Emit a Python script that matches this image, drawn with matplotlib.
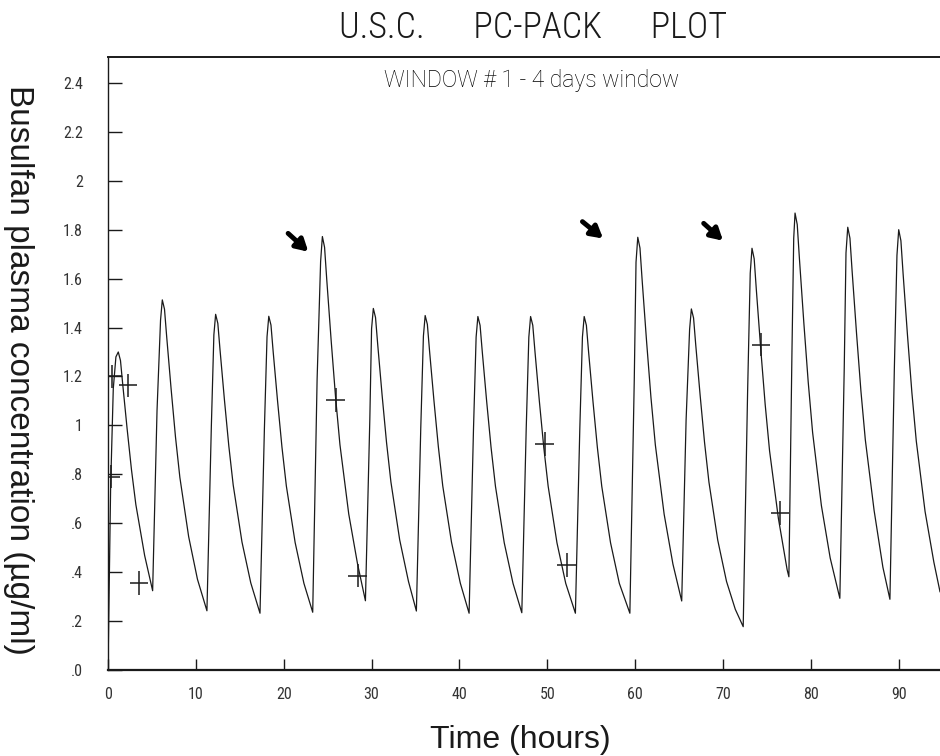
import matplotlib
matplotlib.use("Agg")
import matplotlib.pyplot as plt

# ---------------- data ----------------
# simulated busulfan concentration curve (time in hours, conc in ug/ml)
curve_time = [
    0.0, 0.3, 0.6, 0.9, 1.17, 1.42, 1.67, 2.17, 2.67, 3.17, 4.17,
    5.08, 5.58, 5.98, 6.18, 6.43, 6.68, 7.18, 7.68, 8.18, 9.18, 10.18,
    11.26, 11.76, 12.05, 12.25, 12.5, 12.75, 13.25, 13.75, 14.25, 15.25, 16.25,
    17.3, 17.8, 18.1, 18.3, 18.55, 18.8, 19.3, 19.8, 20.3, 21.3, 22.3,
    23.3, 23.8, 24.2, 24.4, 24.65, 24.9, 25.4, 25.9, 26.4, 27.4, 28.4,
    29.3, 29.8, 30.0, 30.2, 30.45, 30.7, 31.2, 31.7, 32.2, 33.2, 34.2,
    35.1, 35.6, 35.9, 36.1, 36.35, 36.6, 37.1, 37.6, 38.1, 39.1, 40.1,
    41.1, 41.6, 41.9, 42.1, 42.35, 42.6, 43.1, 43.6, 44.1, 45.1, 46.1,
    47.1, 47.6, 47.9, 48.1, 48.35, 48.6, 49.1, 49.6, 50.1, 51.1, 52.1,
    53.2, 53.7, 54.0, 54.2, 54.45, 54.7, 55.2, 55.7, 56.2, 57.2, 58.2,
    59.4, 59.9, 60.1, 60.3, 60.55, 60.8, 61.3, 61.8, 62.3, 63.3, 64.3,
    65.3, 65.8, 66.2, 66.4, 66.65, 66.9, 67.4, 67.9, 68.4, 69.4, 70.4, 71.4,
    72.3, 72.8, 73.1, 73.3, 73.55, 73.8, 74.3, 74.8, 75.3, 76.3, 77.3,
    77.5, 77.85, 78.05, 78.2, 78.45, 78.7, 79.2, 79.7, 80.2, 81.2, 82.2,
    83.3, 83.8, 84.0, 84.2, 84.45, 84.7, 85.2, 85.7, 86.2, 87.2, 88.2,
    89.0, 89.5, 89.8, 90.0, 90.25, 90.5, 91.0, 91.5, 92.0, 93.0, 94.0, 94.7,
]
curve_conc = [
    0.0, 0.75, 1.15, 1.28, 1.30, 1.265, 1.17, 0.988, 0.819, 0.676, 0.468,
    0.324, 1.061, 1.430, 1.513, 1.475, 1.362, 1.150, 0.953, 0.787, 0.545, 0.371,
    0.242, 0.993, 1.370, 1.454, 1.417, 1.309, 1.105, 0.916, 0.756, 0.523, 0.356,
    0.232, 0.985, 1.362, 1.446, 1.410, 1.301, 1.099, 0.911, 0.752, 0.521, 0.354,
    0.236, 1.188, 1.670, 1.772, 1.728, 1.595, 1.347, 1.116, 0.921, 0.638, 0.434,
    0.283, 1.024, 1.395, 1.478, 1.441, 1.330, 1.123, 0.931, 0.769, 0.532, 0.362,
    0.241, 0.990, 1.365, 1.449, 1.413, 1.304, 1.101, 0.913, 0.753, 0.522, 0.355,
    0.232, 0.984, 1.361, 1.445, 1.409, 1.301, 1.098, 0.910, 0.751, 0.520, 0.354,
    0.234, 0.985, 1.361, 1.445, 1.409, 1.301, 1.098, 0.910, 0.751, 0.520, 0.354,
    0.232, 0.984, 1.361, 1.445, 1.409, 1.301, 1.098, 0.910, 0.751, 0.520, 0.354,
    0.232, 1.185, 1.667, 1.769, 1.725, 1.592, 1.344, 1.114, 0.920, 0.637, 0.433,
    0.282, 1.022, 1.393, 1.476, 1.439, 1.328, 1.122, 0.930, 0.768, 0.531, 0.362, 0.248,
    0.177, 1.136, 1.622, 1.724, 1.681, 1.552, 1.310, 1.086, 0.896, 0.621, 0.41,
    0.381, 1.303, 1.765, 1.868, 1.821, 1.681, 1.420, 1.177, 0.971, 0.672, 0.458,
    0.293, 1.234, 1.705, 1.810, 1.765, 1.629, 1.376, 1.140, 0.941, 0.652, 0.42,
    0.289, 1.226, 1.695, 1.800, 1.755, 1.620, 1.368, 1.134, 0.936, 0.648, 0.441, 0.32,
]

# measured samples (crosses)
sample_time = [0.3, 0.5, 2.3, 3.5, 25.9, 28.4, 49.7, 52.2, 74.3, 76.5]
sample_conc = [0.79, 1.20, 1.163, 0.355, 1.104, 0.386, 0.924, 0.43, 1.33, 0.641]

# arrows marking high peaks (tail -> head)
arrow_tail_t = [20.5, 54.0, 67.8]
arrow_tail_c = [1.785, 1.833, 1.826]
arrow_head_t = [22.8, 56.35, 70.0]
arrow_head_c = [1.71, 1.764, 1.755]

x_ticks = [0, 10, 20, 30, 40, 50, 60, 70, 80, 90]
x_tick_labels = ["0", "10", "20", "30", "40", "50", "60", "70", "80", "90"]
y_ticks = [0.0, 0.2, 0.4, 0.6, 0.8, 1.0, 1.2, 1.4, 1.6, 1.8, 2.0, 2.2, 2.4]
y_tick_labels = [".0", ".2", ".4", ".6", ".8", "1", "1.2", "1.4", "1.6", "1.8", "2", "2.2", "2.4"]

title_text = "U.S.C.      PC-PACK      PLOT"
window_text = "WINDOW # 1 - 4 days window"
x_label = "Time (hours)"
y_label = "Busulfan plasma concentration (\u00b5g/ml)"

# ---------------- drawing ----------------
thin_cond = dict(family=["Roboto Condensed", "DejaVu Sans"], stretch="condensed", weight="light")
tick_font = dict(family=["Roboto Condensed", "DejaVu Sans"], stretch="condensed", weight="normal")
thin = dict(family=["Roboto", "DejaVu Sans"], weight="light")
ink = "#1a1a1a"

fig = plt.figure(figsize=(9.4, 7.56), dpi=100)
ax = fig.add_axes([0.1149, 0.1138, 0.8851, 0.8108])

ax.plot(curve_time, curve_conc, color=ink, lw=0.9)
ax.errorbar(sample_time, sample_conc, xerr=1.05, yerr=0.048, fmt="none",
            ecolor=ink, elinewidth=1.1, capsize=0)

for tt, tc, ht, hc in zip(arrow_tail_t, arrow_tail_c, arrow_head_t, arrow_head_c):
    ax.annotate("", xy=(ht, hc), xytext=(tt, tc),
                arrowprops=dict(arrowstyle="-|>,head_length=0.7,head_width=0.4",
                                lw=3.5, color="black", shrinkA=0, shrinkB=0))

ax.set_xlim(0, 94.7)
ax.set_ylim(0, 2.506)
ax.set_xticks(x_ticks)
ax.set_xticklabels(x_tick_labels, fontsize=11.5, color="#333333", **tick_font)
ax.set_yticks(y_ticks)
ax.set_yticklabels(y_tick_labels, fontsize=11.5, color="#333333", **tick_font)
ax.tick_params(axis="y", direction="in", length=10, width=1, pad=18, colors=ink)
ax.tick_params(axis="x", direction="in", length=8, width=1, pad=12, colors=ink)
for lbl in ax.get_xticklabels() + ax.get_yticklabels():
    lbl.set_color("#333333")

ax.spines["right"].set_visible(False)
ax.spines["left"].set_linewidth(1.0)
ax.spines["bottom"].set_linewidth(1.6)
ax.spines["top"].set_linewidth(1.4)
for s in ("left", "bottom", "top"):
    ax.spines[s].set_color(ink)

fig.text(0.567, 1 - 27.5 / 756, title_text, ha="center", va="center",
         fontsize=26, color=ink, **thin_cond)
fig.text(0.5656, 1 - 80.5 / 756, window_text, ha="center", va="center",
         fontsize=16.5, color="black", **thin)
fig.text(0.554, 1 - 740 / 756, x_label, ha="center", va="center",
         fontsize=23, color=ink, family=["Liberation Sans", "DejaVu Sans"])
fig.text(0.02, 1 - 370 / 756, y_label, ha="center", va="center", rotation=-90,
         fontsize=24, color=ink, family=["Liberation Sans", "DejaVu Sans"])

fig.savefig("out.png", dpi=100)
